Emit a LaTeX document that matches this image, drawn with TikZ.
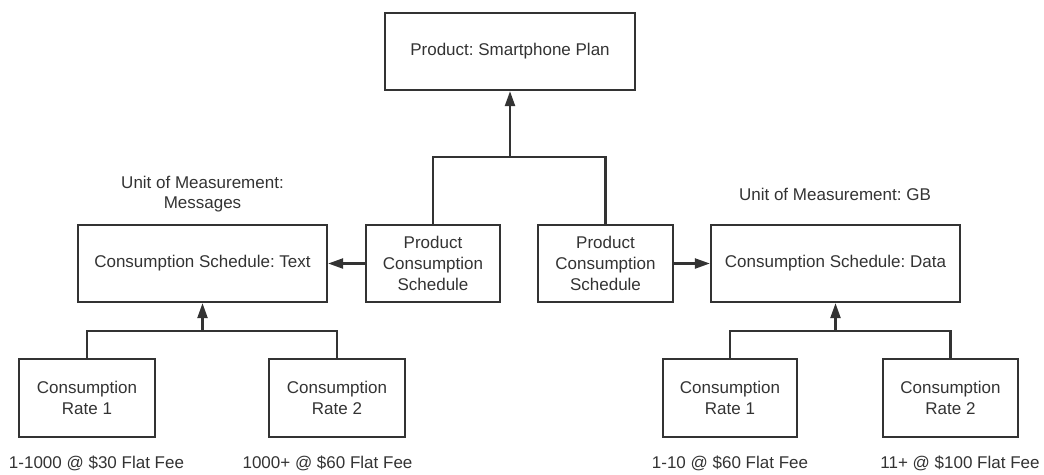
\documentclass[tikz,border=0pt]{standalone}
\usepackage{fontspec}
\setmainfont{Liberation Sans}
\usetikzlibrary{arrows.meta}
\definecolor{ink}{HTML}{333333}
\frenchspacing

\begin{document}
\begin{tikzpicture}[x=1pt,y=-1pt,
    every node/.style={text=ink,font=\fontsize{17}{20.7}\selectfont},
    box/.style={draw=ink,line width=2.3pt,align=center,minimum height=77pt,inner sep=0pt},
    link/.style={draw=ink,line width=2.3pt},
    tip/.style={link,-{Triangle[length=15pt,width=10pt]}}]
  \useasboundingbox (0,0) rectangle (1044,474);

  % Boxes
  \node[box,minimum width=250pt] (plan) at (510,51.5) {Product: Smartphone Plan};
  \node[box,minimum width=134pt] (pcsL) at (433,263.5) {Product\\Consumption\\Schedule};
  \node[box,minimum width=135pt] (pcsR) at (605.5,263.5) {Product\\Consumption\\Schedule};
  \node[box,minimum width=249pt] (text) at (202.5,263.5) {Consumption Schedule: Text};
  \node[box,minimum width=249pt] (data) at (835.5,263.5) {Consumption Schedule: Data};
  \node[box,minimum width=136pt,minimum height=78pt] (textR1) at (87,398) {Consumption\\Rate 1};
  \node[box,minimum width=136pt,minimum height=78pt] (textR2) at (337,398) {Consumption\\Rate 2};
  \node[box,minimum width=134pt,minimum height=78pt] (dataR1) at (730,398) {Consumption\\Rate 1};
  \node[box,minimum width=135pt,minimum height=78pt] (dataR2) at (950.5,398) {Consumption\\Rate 2};

  % Labels
  \node[align=center] (unitT) at (202.5,194) {Unit of Measurement:\\Messages};
  \node (unitD) at (835,194) {Unit of Measurement: GB};
  \node (feeT1) at (96.5,463) {1-1000 @ \$30 Flat Fee};
  \node (feeT2) at (327.5,463) {1000+ @ \$60 Flat Fee};
  \node (feeD1) at (730,463) {1-10 @ \$60 Flat Fee};
  \node (feeD2) at (960,463) {11+ @ \$100 Flat Fee};

  % Connectors
  \coordinate (hub) at (510,157);
  \coordinate (busT) at (202.5,331);
  \coordinate (busD) at (835.5,331);
  \draw[link] (pcsL.north) |- (hub) -| (pcsR.north);
  \draw[tip] (hub) -- (plan.south);
  \draw[tip] (pcsL.west) -- (text.east);
  \draw[tip] (pcsR.east) -- (data.west);
  \draw[link] (textR1.north) |- (busT) -| (textR2.north);
  \draw[tip] (busT) -- (text.south);
  \draw[link] (dataR1.north) |- (busD) -| (dataR2.north);
  \draw[tip] (busD) -- (data.south);
\end{tikzpicture}
\end{document}
